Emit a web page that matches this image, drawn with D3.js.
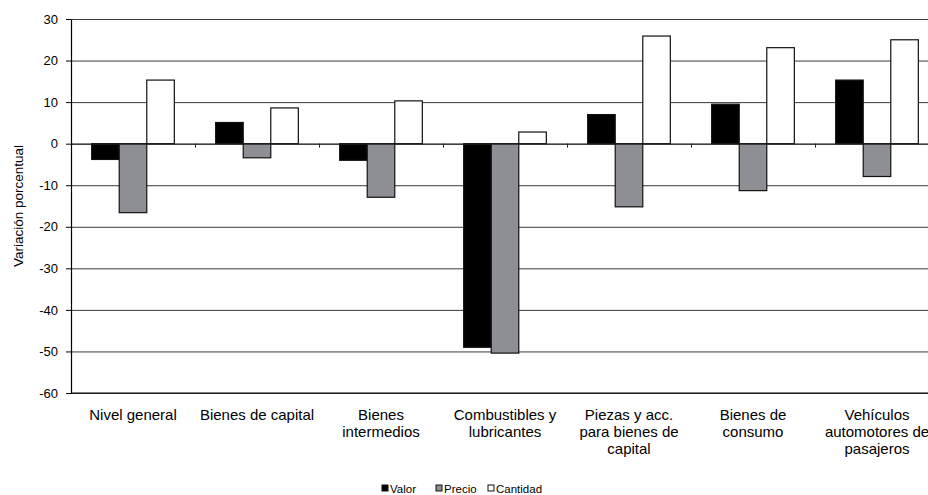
<!DOCTYPE html>
<html>
<head>
<meta charset="utf-8">
<script src="https://cdn.jsdelivr.net/npm/d3@7"></script>
<style>
	body { margin: 0; background: #fff; }
	svg { display: block; font-family: "Liberation Sans", Arial, sans-serif; }
</style>
</head>
<body>
<div id="chart"></div>
<script>
const categories = [
	["Nivel general"],
	["Bienes de capital"],
	["Bienes", "intermedios"],
	["Combustibles y", "lubricantes"],
	["Piezas y acc.", "para bienes de", "capital"],
	["Bienes de", "consumo"],
	["Vehículos", "automotores de", "pasajeros"],
];
const seriesNames = ["Valor", "Precio", "Cantidad"];
const valor = [-3.8, 5.1, -4.0, -49.0, 7.0, 9.5, 15.3];
const precio = [-16.6, -3.4, -12.9, -50.4, -15.2, -11.3, -7.9];
const cantidad = [15.3, 8.6, 10.3, 2.8, 25.9, 23.1, 25.0];
const yTicks = [30, 20, 10, 0, -10, -20, -30, -40, -50, -60];

const colors = { Valor: "#000000", Precio: "#8e8f94", Cantidad: "#ffffff" };

const width = 928, height = 495;
const margin = { top: 19, right: -11, bottom: 102, left: 71 };

const svg = d3.select("#chart")
	.append("svg")
	.attr("width", width)
	.attr("height", height);

const labels = categories.map(c => c.join(" "));
const rows = labels.map((label, i) => ({
	label,
	values: [valor[i], precio[i], cantidad[i]],
}));

const x0 = d3.scaleBand()
	.domain(labels)
	.range([margin.left, width - margin.right]);

// excel style gap: 150% of a bar width
const barW = x0.bandwidth() / 4.5;
const x1 = d3.scaleBand()
	.domain(seriesNames)
	.range([barW * 0.75, x0.bandwidth() - barW * 0.75]);

const y = d3.scaleLinear()
	.domain([-60, 30])
	.range([height - margin.bottom, margin.top]);

// gridlines
svg.append("g")
	.attr("transform", `translate(${margin.left},0)`)
	.call(d3.axisLeft(y).tickValues(yTicks).tickSize(-(width - margin.left)).tickFormat(""))
	.call(g => g.select(".domain").remove())
	.call(g => g.selectAll("line").attr("stroke", "#3a3a3a").attr("stroke-width", 1));

// bars
const groups = svg.append("g")
	.selectAll("g")
	.data(rows)
	.join("g")
	.attr("transform", d => `translate(${x0(d.label)},0)`);

groups.selectAll("rect")
	.data(d => d.values.map((v, j) => ({ name: seriesNames[j], value: v })))
	.join("rect")
	.attr("x", d => x1(d.name))
	.attr("width", x1.bandwidth())
	.attr("y", d => y(Math.max(0, d.value)))
	.attr("height", d => Math.abs(y(d.value) - y(0)))
	.attr("fill", d => colors[d.name])
	.attr("stroke", "#111")
	.attr("stroke-width", 1.2);

// zero line with category ticks
svg.append("g")
	.attr("transform", `translate(0,${y(0)})`)
	.call(d3.axisBottom(d3.scaleLinear().domain([0, labels.length]).range(x0.range()))
		.tickValues(d3.range(1, labels.length + 1))
		.tickSize(4)
		.tickFormat(""))
	.call(g => g.select(".domain").attr("stroke", "#222"))
	.call(g => g.selectAll("line").attr("stroke", "#222"));

// bottom axis line
svg.append("line")
	.attr("x1", margin.left)
	.attr("x2", width)
	.attr("y1", y(-60))
	.attr("y2", y(-60))
	.attr("stroke", "#000")
	.attr("stroke-width", 1.2);

// y axis (plain hyphen for negatives, like the original)
svg.append("g")
	.attr("transform", `translate(${margin.left},0)`)
	.call(d3.axisLeft(y).tickValues(yTicks).tickSize(5).tickPadding(8).tickSizeOuter(0)
		.tickFormat(d => String(d)))
	.call(g => g.select(".domain").attr("stroke", "#000").attr("stroke-width", 1.2))
	.call(g => g.selectAll("line").attr("stroke", "#000"))
	.call(g => g.selectAll("text").attr("font-size", 13).attr("fill", "#000")
		.attr("font-family", "Liberation Sans, Arial, sans-serif"));

// y title
svg.append("text")
	.attr("transform", "translate(23,206) rotate(-90)")
	.attr("text-anchor", "middle")
	.attr("font-size", 13.5)
	.text("Variación porcentual");

// category labels
svg.append("g")
	.selectAll("text")
	.data(categories)
	.join("text")
	.attr("x", (d, i) => x0(labels[i]) + x0.bandwidth() / 2)
	.attr("y", 420)
	.attr("text-anchor", "middle")
	.attr("font-size", 15)
	.selectAll("tspan")
	.data(d => d)
	.join("tspan")
	.attr("x", function () { return this.parentNode.getAttribute("x"); })
	.attr("dy", (d, i) => i === 0 ? 0 : 17)
	.text(d => d);

// legend
const legendX = [382, 436, 488];
const legend = svg.append("g")
	.selectAll("g")
	.data(seriesNames)
	.join("g")
	.attr("transform", (d, i) => `translate(${legendX[i]},485)`);

legend.append("rect")
	.attr("width", 6)
	.attr("height", 6)
	.attr("fill", d => colors[d])
	.attr("stroke", "#111")
	.attr("stroke-width", 1);

legend.append("text")
	.attr("x", 8)
	.attr("y", 7.5)
	.attr("font-size", 11.5)
	.text(d => d);
</script>
</body>
</html>
